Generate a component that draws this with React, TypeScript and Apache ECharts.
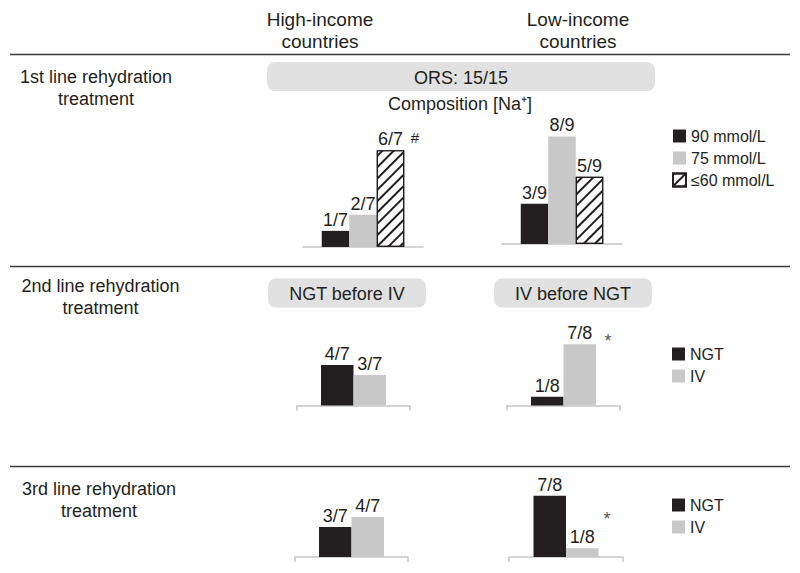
import React, { useEffect, useRef } from "react";
import * as echarts from "echarts";

// ---------- data ----------
const naGroups = ["90 mmol/L", "75 mmol/L", "≤60 mmol/L"];
const routeGroups = ["NGT", "IV"];

const row1HighCounts = [1, 2, 6];
const row1HighTotal = 7;
const row1LowCounts = [3, 8, 5];
const row1LowTotal = 9;

const row2HighCounts = [4, 3];
const row2HighTotal = 7;
const row2LowCounts = [1, 7];
const row2LowTotal = 8;

const row3HighCounts = [3, 4];
const row3HighTotal = 7;
const row3LowCounts = [7, 1];
const row3LowTotal = 8;

const columnHeaders = ["High-income\ncountries", "Low-income\ncountries"];
const rowTitles = [
  "1st line rehydration\ntreatment",
  "2nd line rehydration\ntreatment",
  "3rd line rehydration\ntreatment",
];
const boxLabels = ["ORS: 15/15", "NGT before IV", "IV before NGT"];

// ---------- styling ----------
const FONT = "'Liberation Sans', Arial, Helvetica, sans-serif";
const BLACK = "#231f20";
const GRAY = "#c8c8c9";
const BOX = "#e1e1e1";
const AXIS = "#c6c6c6";
const RULE = "#3c3c3c";

type Panel = {
  groups: string[];
  counts: number[];
  total: number;
  left: number;
  top: number;
  width: number;
  height: number;
  barWidth: number;
  ticks: boolean;
};

const panels: Panel[] = [
  { groups: naGroups, counts: row1HighCounts, total: row1HighTotal, left: 303, top: 134, width: 120, height: 113, barWidth: 27.5, ticks: false },
  { groups: naGroups, counts: row1LowCounts, total: row1LowTotal, left: 502, top: 123, width: 120, height: 121, barWidth: 27.5, ticks: false },
  { groups: routeGroups, counts: row2HighCounts, total: row2HighTotal, left: 297, top: 334.5, width: 113, height: 71, barWidth: 32.5, ticks: true },
  { groups: routeGroups, counts: row2LowCounts, total: row2LowTotal, left: 507, top: 335.5, width: 113, height: 70, barWidth: 32.5, ticks: true },
  { groups: routeGroups, counts: row3HighCounts, total: row3HighTotal, left: 295, top: 487, width: 113, height: 70, barWidth: 32.5, ticks: true },
  { groups: routeGroups, counts: row3LowCounts, total: row3LowTotal, left: 509, top: 487, width: 114, height: 70, barWidth: 32.5, ticks: true },
];

const groupStyle = (g: number) => {
  if (g === 0) return { color: BLACK };
  if (g === 1) return { color: GRAY };
  return {
    color: "#ffffff",
    borderColor: BLACK,
    borderWidth: 1.2,
    decal: {
      symbol: "rect",
      symbolSize: 1,
      dashArrayX: [1, 0],
      dashArrayY: [1.1, 5.5],
      rotation: -Math.PI / 4,
      color: BLACK,
    },
  };
};

function buildOption() {
  const grid: any[] = [];
  const xAxis: any[] = [];
  const yAxis: any[] = [];
  const series: any[] = [];

  panels.forEach((p, i) => {
    grid.push({ left: p.left, top: p.top, width: p.width, height: p.height });
    xAxis.push({
      type: "category",
      gridIndex: i,
      data: [""],
      axisLine: { show: true, lineStyle: { color: AXIS, width: 1.5 } },
      axisTick: { show: p.ticks, length: 5, inside: false, lineStyle: { color: AXIS, width: 1.5 } },
      axisLabel: { show: false },
      splitLine: { show: false },
    });
    yAxis.push({ type: "value", gridIndex: i, min: 0, max: 1, show: false });
    p.groups.forEach((g, gi) => {
      series.push({
        type: "bar",
        name: g,
        xAxisIndex: i,
        yAxisIndex: i,
        barWidth: p.barWidth,
        barGap: "0%",
        data: [p.counts[gi] / p.total],
        itemStyle: groupStyle(gi),
        label: {
          show: true,
          position: "top",
          distance: 2,
          formatter: `${p.counts[gi]}/${p.total}`,
          fontSize: 18,
          fontFamily: FONT,
          color: BLACK,
        },
      });
    });
  });

  const legendBase = {
    orient: "vertical",
    icon: "rect",
    itemWidth: 13,
    itemHeight: 13,
    itemGap: 6,
    selectedMode: false,
    textStyle: { fontSize: 16, fontFamily: FONT, color: BLACK },
  };
  const legend = [
    { ...legendBase, data: naGroups, left: 667, top: 123 },
    { ...legendBase, data: routeGroups, left: 667, top: 341 },
    { ...legendBase, data: routeGroups, left: 667, top: 492 },
  ];

  const txt = (text: string, x: number, y: number, size = 18, align = "center", fill = BLACK, lh = 22) => ({
    type: "text",
    x,
    y,
    style: {
      text,
      fontSize: size,
      fontFamily: FONT,
      fill,
      align,
      textAlign: align,
      verticalAlign: "middle",
      textVerticalAlign: "middle",
      lineHeight: lh,
    },
  });
  const rule = (y: number) => ({
    type: "line",
    shape: { x1: 10, y1: y, x2: 790, y2: y },
    style: { stroke: RULE, lineWidth: 1.3 },
  });
  const box = (x: number, y: number, w: number, h: number, label: string) => ({
    type: "group",
    children: [
      { type: "rect", shape: { x, y, width: w, height: h, r: 8 }, style: { fill: BOX } },
      txt(label, x + w / 2, y + h / 2 + 1),
    ],
  });

  const graphic = [
    rule(54.5),
    rule(266.5),
    rule(466.5),
    txt(columnHeaders[0], 320, 30, 19),
    txt(columnHeaders[1], 578, 30, 19),
    txt(rowTitles[0], 96, 88),
    txt(rowTitles[1], 100.5, 297),
    txt(rowTitles[2], 99, 499.5),
    box(267, 62, 388, 29, boxLabels[0]),
    box(268, 278.5, 158, 29, boxLabels[1]),
    box(494, 278.5, 158, 29, boxLabels[2]),
    txt("Composition [Na⁺]", 460, 104),
    txt("#", 415, 137, 15),
    txt("*", 608, 341, 18, "center", "#555555"),
    txt("*", 607, 519, 18, "center", "#555555"),
  ];

  return {
    animation: false,
    backgroundColor: "#ffffff",
    textStyle: { fontFamily: FONT },
    grid,
    xAxis,
    yAxis,
    series,
    legend,
    graphic,
  };
}

export default function App() {
  const ref = useRef<HTMLDivElement>(null);
  useEffect(() => {
    if (!ref.current) return;
    const chart = echarts.init(ref.current, undefined, { renderer: "svg" });
    chart.setOption(buildOption() as any);
    return () => chart.dispose();
  }, []);
  return (
    <div
      ref={ref}
      style={{ position: "absolute", left: 0, top: 0, width: 800, height: 573, background: "#fff" }}
    />
  );
}
